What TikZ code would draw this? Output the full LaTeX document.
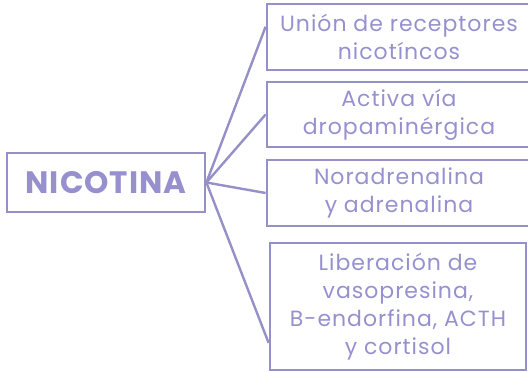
\documentclass[tikz,border=0pt]{standalone}
\usepackage{fontspec}
\setmainfont{Poppins}
\usetikzlibrary{calc}
\definecolor{lav}{RGB}{150,144,200}
\definecolor{lavtext}{RGB}{150,145,206}
\tikzset{
  boxnode/.style={draw=lav, line width=2.8pt, rectangle, inner sep=0pt, align=center,
    text=lavtext, font=\fontsize{22}{28}\selectfont\addfontfeatures{LetterSpace=4.5}},
  link/.style={draw=lav, line width=2.4pt}
}
\begin{document}
\begin{tikzpicture}[x=1pt,y=-1pt]
\useasboundingbox (0,0) rectangle (528,372);
\node[boxnode, minimum width=198pt, minimum height=59pt, font=\fontsize{31}{34}\selectfont\bfseries\addfontfeatures{LetterSpace=3}] (nic) at (106,182.5) {NICOTINA};
\node[boxnode, minimum width=264pt, minimum height=66pt] (b1) at (399,37) {Unión de receptores\\nicotíncos};
\node[boxnode, minimum width=264pt, minimum height=65pt] (b2) at (399,114.5) {Activa vía\\dropaminérgica};
\node[boxnode, minimum width=264pt, minimum height=66pt] (b3) at (399,193) {Noradrenalina\\y adrenalina};
\node[boxnode, minimum width=256pt, minimum height=127pt] (b4) at (398,306.5) {Liberación de\\vasopresina,\\B-endorfina, ACTH\\y cortisol};
\draw[link] (nic.east) -- ($(b1.south west)!0.65!(b1.north west)$);
\draw[link] (nic.east) -- (b2.west);
\draw[link] (nic.east) -- (b3.west);
\draw[link] (nic.east) -- ($(b4.south west)!0.22!(b4.north west)$);
\end{tikzpicture}
\end{document}
